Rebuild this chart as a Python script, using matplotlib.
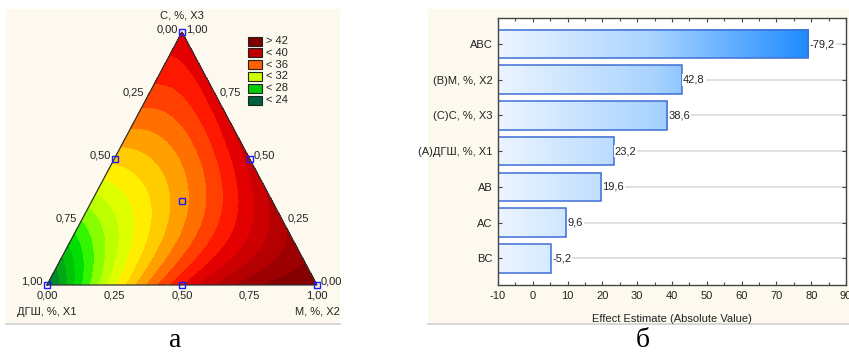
import numpy as np
import matplotlib
matplotlib.use("Agg")
import matplotlib.pyplot as plt
from matplotlib.patches import Rectangle
from matplotlib.lines import Line2D
from matplotlib.colors import LinearSegmentedColormap

# Effect estimates of the special cubic mixture model
terms = ["ABC", "(B)M, %, X2", "(C)C, %, X3", "(A)ДГШ, %, X1", "AB", "AC", "BC"]
effects = [-79.2, 42.8, 38.6, 23.2, 19.6, 9.6, -5.2]

# Simplex-centroid design points (X1, X2, X3)
design_x1 = [1.0, 0.0, 0.0, 0.5, 0.5, 0.0, 1 / 3]
design_x2 = [0.0, 1.0, 0.0, 0.5, 0.0, 0.5, 1 / 3]
design_x3 = [0.0, 0.0, 1.0, 0.0, 0.5, 0.5, 1 / 3]

edge_ticks = [0.0, 0.25, 0.5, 0.75, 1.0]
legend_labels = ["> 42", "< 40", "< 36", "< 32", "< 28", "< 24"]

W, H = 849, 352
plt.rcParams["font.family"] = ["Liberation Sans", "DejaVu Sans"]
fig = plt.figure(figsize=(W / 100, H / 100), dpi=100)
fig.patch.set_facecolor("white")


def fbox(x0, y0, x1, y1):
    # pixel box (top-left origin) -> figure fraction rect
    return [x0 / W, 1 - y1 / H, (x1 - x0) / W, (y1 - y0) / H]


def comma(v, nd=2):
    return f"{v:.{nd}f}".replace(".", ",")


# panel backgrounds
for x0, x1 in [(6, 340), (428, 849)]:
    b = fbox(x0, 9, x1, 323)
    fig.patches.append(Rectangle((b[0], b[1]), b[2], b[3], transform=fig.transFigure,
                                 facecolor="#fdf9ef", edgecolor="none", zorder=-5))
    fig.lines.append(Line2D([x0 / W, x1 / W], [1 - 323.5 / H] * 2, transform=fig.transFigure,
                            color="#cfcfcf", lw=1.2, zorder=-4))

# ---------------- ternary contour ----------------
coef = dict(zip(["ABC", "B", "C", "A", "AB", "AC", "BC"], effects))

n = 160
pts = [(i / n, j / n) for i in range(n + 1) for j in range(n + 1 - i)]
x3 = np.array([p[0] for p in pts])
x2 = np.array([p[1] for p in pts])
x1 = 1 - x2 - x3
z = (coef["A"] * x1 + coef["B"] * x2 + coef["C"] * x3
     + coef["AB"] * x1 * x2 + coef["AC"] * x1 * x3 + coef["BC"] * x2 * x3
     + coef["ABC"] * x1 * x2 * x3)
tx = x2 + 0.5 * x3
ty = x3

# one colour per unit band, 21..43
band_colors = ["#004a2a", "#005530", "#006a35", "#008a28", "#00a818", "#00c408", "#00dd00",
               "#33f500", "#88ff00", "#bbff00", "#ddff00", "#ffee00", "#ffcc00", "#ffa000",
               "#ff7000", "#ff4000", "#ff1800", "#e20000", "#cc0000", "#b40000", "#9c0000",
               "#840000"]
levels = np.arange(21, 44, 1)

ax = fig.add_axes(fbox(47, 32, 317, 285))
ax.set_xlim(0, 1)
ax.set_ylim(0, 1)
ax.axis("off")
ax.tricontourf(tx, ty, z, levels=levels, colors=band_colors)
ax.plot([0, 1, 0.5, 0], [0, 0, 1, 0], color="#333333", lw=0.9, clip_on=False)

dx = np.array(design_x2) + 0.5 * np.array(design_x3)
dy = np.array(design_x3)
ax.plot(dx, dy, ls="none", marker="s", ms=4, mfc="none", mec="#1a1aff", mew=1.0, clip_on=False)

fs = 8
for t in edge_ticks:
    # bottom edge: X2
    ax.annotate(comma(t), (t, 0), xytext=(0, -6), textcoords="offset pixels",
                ha="center", va="top", fontsize=fs, color="#222222")
    # left edge: X1
    ax.annotate(comma(1 - t), (0.5 * t, t), xytext=(-4, 3), textcoords="offset pixels",
                ha="right", va="center", fontsize=fs, color="#222222")
    # right edge: X3
    ax.annotate(comma(t), (1 - 0.5 * t, t), xytext=(4, 3), textcoords="offset pixels",
                ha="left", va="center", fontsize=fs, color="#222222")

ax.annotate("C, %, X3", (0.5, 1), xytext=(0, 17), textcoords="offset pixels",
            ha="center", va="center", fontsize=fs, color="#222222")
ax.annotate("ДГШ, %, X1", (0, 0), xytext=(0, -27), textcoords="offset pixels",
            ha="center", va="center", fontsize=fs, color="#222222")
ax.annotate("M, %, X2", (1, 0), xytext=(0, -27), textcoords="offset pixels",
            ha="center", va="center", fontsize=fs, color="#222222")

# legend
leg_colors = ["#800000", "#c00000", "#ff6000", "#ccff00", "#00cc00", "#006040"]
for i, (lab, col) in enumerate(zip(legend_labels, leg_colors)):
    y0 = 36.5 + 11.8 * i
    b = fbox(248, y0, 262, y0 + 9)
    fig.patches.append(Rectangle((b[0], b[1]), b[2], b[3], transform=fig.transFigure,
                                 facecolor=col, edgecolor="#222222", lw=0.8, zorder=3))
    fig.text(266 / W, 1 - (y0 + 4.5) / H, lab, ha="left", va="center", fontsize=fs,
             color="#222222")

# ---------------- Pareto chart of effects ----------------
bx = fig.add_axes(fbox(498, 18, 846, 285))
bx.set_facecolor("white")
xmin, xmax = -10, 90
ypos = np.arange(len(terms))[::-1]

grad = LinearSegmentedColormap.from_list("grad", ["#ecf5ff", "#a9d3ff", "#1c8aff"])
bar_h = 0.8
for y, e in zip(ypos, effects):
    v = abs(e)
    bx.axhline(y, color="#dddddd", lw=1.3, zorder=0)
    img = np.linspace(xmin, v, 256)[None, :]
    bx.imshow(img, cmap=grad, vmin=xmin, vmax=80, aspect="auto", interpolation="bilinear",
              extent=(xmin, v, y - bar_h / 2, y + bar_h / 2), zorder=1)
    bx.text(v + 0.4, y, comma(e, 1), ha="left", va="center", fontsize=fs, color="#222222",
            bbox=dict(fc="white", ec="none", pad=0.6), zorder=3)
bx.barh(ypos, [abs(e) - xmin for e in effects], left=xmin, height=bar_h, fill=False,
        edgecolor="#3f6fd6", lw=1.1, zorder=2)
bx.set_xlim(xmin, xmax)
bx.set_ylim(-0.75, len(terms) - 0.27)

bx.set_yticks(ypos)
bx.set_yticklabels(terms, fontsize=fs, color="#222222")
bx.set_xticks(np.arange(-10, 91, 10))
bx.set_xticklabels([str(v) for v in range(-10, 91, 10)], fontsize=fs, color="#222222")
bx.set_xticks(np.arange(-5, 90, 5), minor=True)
bx.tick_params(axis="both", which="both", direction="in", top=True, right=True,
               color="#444444", length=3, width=0.8, pad=4)
bx.tick_params(axis="x", which="minor", length=2)
for s in bx.spines.values():
    s.set_color("#444444")
    s.set_linewidth(1.0)
bx.set_xlabel("Effect Estimate (Absolute Value)", fontsize=fs, color="#222222", labelpad=10)

# panel captions
fig.text(175 / W, 1 - 347 / H, "а", ha="center", va="baseline", fontsize=20,
         family=["Liberation Serif", "DejaVu Serif"])
fig.text(643 / W, 1 - 347 / H, "б", ha="center", va="baseline", fontsize=20,
         family=["Liberation Serif", "DejaVu Serif"])

fig.savefig("out.png", dpi=100)
